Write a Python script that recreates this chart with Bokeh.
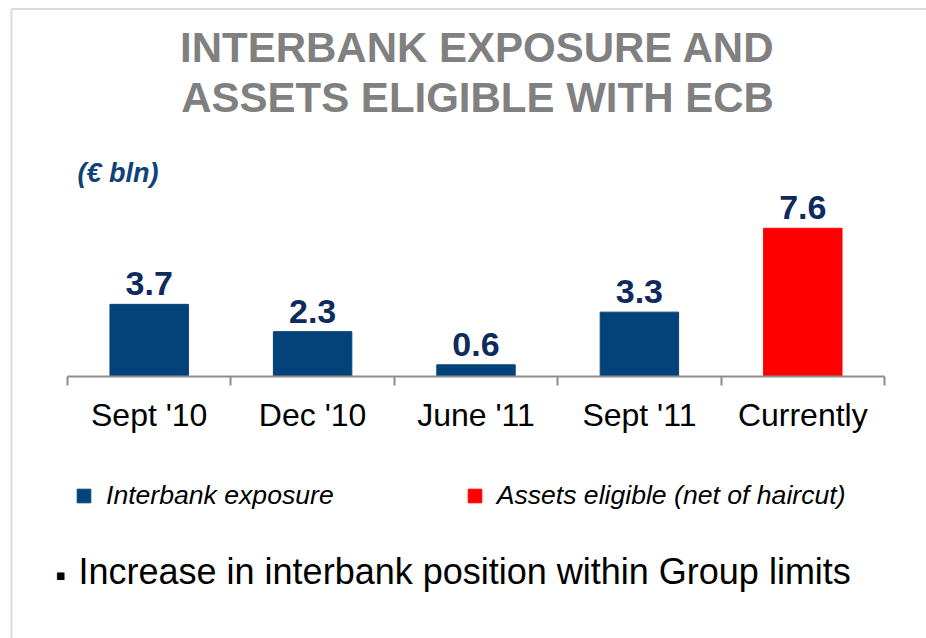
from bokeh.plotting import figure
from bokeh.models import (Range1d, LinearAxis, FixedTicker, Label, Legend,
                          LegendItem, ColumnDataSource, BoxAnnotation)
from bokeh.embed import file_html
from bokeh.resources import INLINE
from bokeh.core.properties import value

# ---------------- data ----------------
categories = ["Sept '10", "Dec '10", "June '11", "Sept '11", "Currently"]
values = [3.7, 2.3, 0.6, 3.3, 7.6]
value_labels = ["3.7", "2.3", "0.6", "3.3", "7.6"]
series = ["Interbank exposure", "Interbank exposure", "Interbank exposure",
          "Interbank exposure", "Assets eligible (net of haircut)"]
series_names = ["Interbank exposure", "Assets eligible (net of haircut)"]
title_lines = ["INTERBANK EXPOSURE AND", "ASSETS ELIGIBLE WITH ECB"]
unit_label = "(€ bln)"
bullet_text = "Increase in interbank position within Group limits"

# ---------------- style / layout ----------------
BLUE = "#03437a"
RED = "#ff0000"
NAVY = "#0f2a5c"
GREY = "#808080"
AXIS_GREY = "#8c8c8c"
FONT = "Liberation Sans"
colors = [BLUE if s == series_names[0] else RED for s in series]

W, H = 926, 638
AXIS_L, AXIS_R = 67, 884      # canvas x of the category axis ends
AXIS_Y = 376                  # canvas y of the category axis
PPU = 19.5                    # pixels per value unit
N = len(categories)
CAT_W = (AXIS_R - AXIS_L) / N
BASE_K = 0.37                 # alphabetic baseline correction (fraction of font size)

positions = [i + 0.5 for i in range(N)]   # category slot centres

p = figure(width=W, height=H,
           x_range=Range1d(-AXIS_L / CAT_W, (W - AXIS_L) / CAT_W),
           y_range=Range1d(-(H - AXIS_Y) / PPU, AXIS_Y / PPU),
           output_backend="svg", toolbar_location=None,
           min_border_left=0, min_border_right=0, min_border_top=0, min_border_bottom=0,
           y_axis_type=None)
p.outline_line_color = None
p.xgrid.visible = False
p.ygrid.visible = False
p.background_fill_color = "white"
p.border_fill_color = "white"

p.extra_x_ranges = {"px": Range1d(0, W)}
p.extra_y_ranges = {"px": Range1d(H, 0)}

# boundary ticks axis (default axis)
tick_axis = p.xaxis[0]
tick_axis.ticker = FixedTicker(ticks=list(range(N + 1)), minor_ticks=[])
tick_axis.bounds = (0, N)
tick_axis.fixed_location = 0
tick_axis.axis_line_color = AXIS_GREY
tick_axis.axis_line_width = 2
tick_axis.major_tick_line_color = AXIS_GREY
tick_axis.major_tick_line_width = 2
tick_axis.major_tick_out = 9
tick_axis.major_tick_in = 0
tick_axis.minor_tick_line_color = None
tick_axis.major_label_overrides = {i: "" for i in range(N + 1)}

# category label axis
cat_axis = LinearAxis(ticker=FixedTicker(ticks=positions, minor_ticks=[]),
                      major_label_overrides={pos: c for pos, c in zip(positions, categories)},
                      fixed_location=0,
                      axis_line_color=None, major_tick_line_color=None,
                      minor_tick_line_color=None, major_tick_out=0, major_tick_in=0,
                      major_label_standoff=20,
                      major_label_text_font=FONT, major_label_text_font_size="32px",
                      major_label_text_color="#000000")
p.add_layout(cat_axis, "below")

src = ColumnDataSource(dict(x=positions, cat=categories, top=values, color=colors,
                            label=value_labels, series=series))
r = p.vbar(x="x", top="top", bottom=0, width=0.48, fill_color="color",
           line_color="color", source=src)
p.text(x="x", y="top", text="label", source=src, text_align="center",
       text_baseline="alphabetic", y_offset=-8 - BASE_K * 34, text_font=value(FONT),
       text_font_style="bold", text_font_size="34px", text_color=NAVY)

legend = Legend(items=[LegendItem(label=series_names[0], renderers=[r], index=0),
                       LegendItem(label=series_names[1], renderers=[r], index=4)],
                orientation="horizontal", location=(75, H - 511),
                glyph_width=17, glyph_height=17, label_standoff=14, spacing=132,
                padding=0, margin=0, border_line_color=None, background_fill_alpha=0,
                label_text_font=FONT, label_text_font_style="italic",
                label_text_font_size="26.6px", label_text_color="#000000")
p.add_layout(legend)


def lab(x, y_base, text, size, font=FONT, **kw):
    d = dict(x=x, y=y_base - BASE_K * size, text=text, x_range_name="px", y_range_name="px",
             text_font=font, text_font_size=f"{size}px", text_baseline="alphabetic")
    d.update(kw)
    return Label(**d)


p.add_layout(lab(477, 63, title_lines[0], 42, text_align="center",
                 text_font_style="bold", text_color=GREY))
p.add_layout(lab(477, 113, title_lines[1], 42, text_align="center",
                 text_font_style="bold", text_color=GREY))
p.add_layout(lab(77, 182, unit_label, 27, text_font_style="bold italic",
                 text_color="#0e4279"))
p.add_layout(lab(55, 580, "▪", 15, font="DejaVu Sans", text_color="#000000"))
p.add_layout(lab(78, 584, bullet_text, 36, text_color="#000000"))

# slide frame lines (top and left)
p.add_layout(BoxAnnotation(left=11, right=W + 200, top=8.5, bottom=H + 200,
                           x_range_name="px", y_range_name="px",
                           fill_alpha=0, line_color=AXIS_GREY, line_width=2))

open("out.html", "w").write(file_html(p, INLINE))
